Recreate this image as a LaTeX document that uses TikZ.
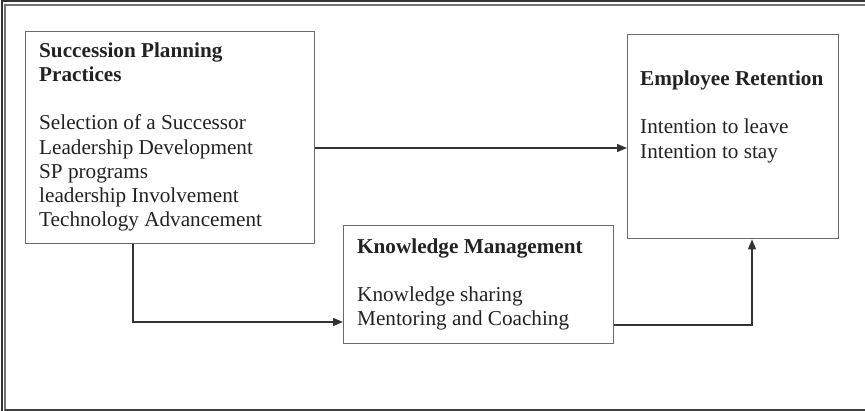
\documentclass[tikz,border=0pt]{standalone}
\usepackage{fontspec}
\setmainfont{Liberation Serif}
\usetikzlibrary{arrows.meta}
\definecolor{boxline}{HTML}{6A6A6A}
\definecolor{ink}{HTML}{222222}
\definecolor{wire}{HTML}{333333}
\tikzset{
  box/.style={draw=boxline, line width=1.4pt, rectangle, inner sep=0pt, anchor=north west},
  txt/.style={text=ink, font=\fontsize{21.2}{24.2}\selectfont, align=left, inner sep=0pt, anchor=north west},
  link/.style={draw=wire, line width=1.3pt, -{Triangle[length=10pt,width=8pt]}},
}
\begin{document}
\begin{tikzpicture}[x=1pt,y=-1pt]
  \useasboundingbox (0,0) rectangle (865,411);
  % page frame: double rule on top and left, single rule at the bottom
  \draw[line width=2pt, draw=black!80] (1.5,411) -- (1.5,1.5) -- (865,1.5);
  \draw[line width=1.3pt, draw=black!55] (5,411) -- (5,5) -- (865,5);
  \draw[line width=1.8pt, draw=black!75] (5,410) -- (865,410);

  % boxes
  \node[box, minimum width=289pt, minimum height=212pt] (sp) at (25,31) {};
  \node[box, minimum width=211pt, minimum height=204pt] (er) at (627,34) {};
  \node[box, minimum width=270pt, minimum height=118pt] (km) at (343,225) {};

  % box contents
  \node[txt] (sptext) at (39,42.3) {\textbf{Succession Planning}\\\textbf{Practices}\\[24.2pt]
    Selection of a Successor\\Leadership Development\\SP programs\\leadership Involvement\\Technology Advancement};
  \node[txt] (ertext) at (640,70.5) {\textbf{Employee Retention}\\[24.2pt]Intention to leave\\Intention to stay};
  \node[txt] (kmtext) at (357,238.3) {\textbf{Knowledge Management}\\[24.2pt]Knowledge sharing\\Mentoring and Coaching};

  % connectors
  \coordinate (spfoot) at (133,322);
  \coordinate (kmbend) at (752,325);
  \draw[link] (sp.east |- 0,148) -- (er.west |- 0,148);
  \draw[link] (sp.south -| spfoot) -- (spfoot) -- (km.west |- spfoot);
  \draw[link] (km.east |- kmbend) -- (kmbend) -- (er.south -| kmbend);
\end{tikzpicture}
\end{document}
